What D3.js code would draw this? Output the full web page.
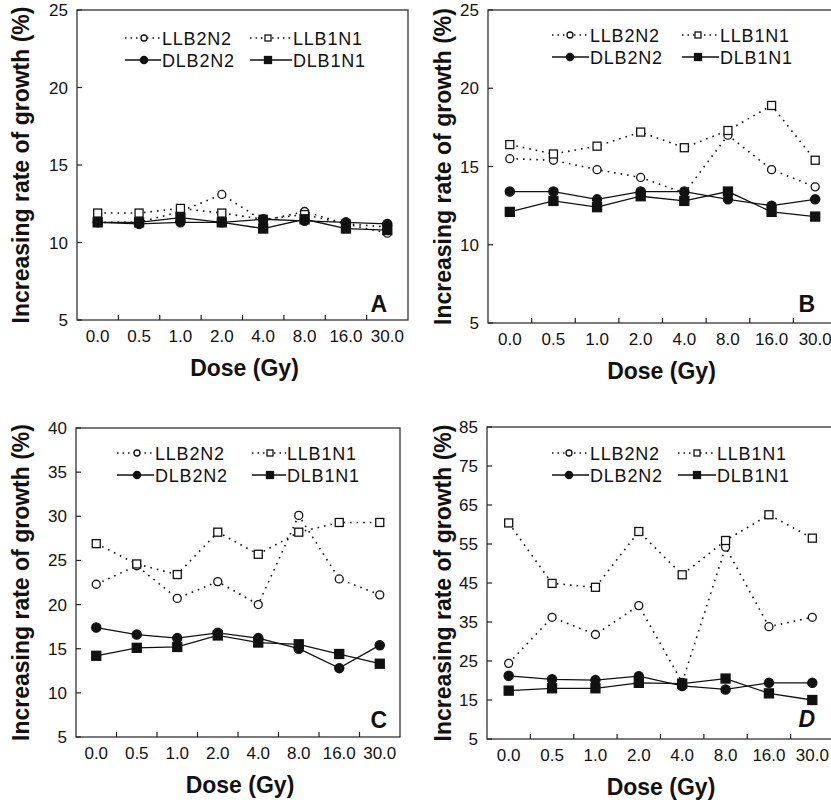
<!DOCTYPE html>
<html>
<head>
  <style>
    body { margin: 0; background: white; }
    svg { font-family: "Liberation Sans", Arial, sans-serif; }
    .tick-label { font-size: 17px; fill: #111; }
    .title { font-size: 23px; font-weight: bold; fill: #111; }
    .legend-text { font-size: 18px; letter-spacing: 0.8px; fill: #111; }
    .letter { font-size: 23px; font-weight: bold; fill: #111; }
  </style>
</head>
<body>
  <div id="chart"></div>
  <script src="https://d3js.org/d3.v7.min.js"></script>
  <script>
    var doses = ["0.0", "0.5", "1.0", "2.0", "4.0", "8.0", "16.0", "30.0"];
    var seriesNames = ["LLB2N2", "LLB1N1", "DLB2N2", "DLB1N1"];

    // panel A
    var llb2n2A = [11.3, 11.3, 12.0, 13.1, 11.4, 12.0, 11.2, 10.6];
    var llb1n1A = [11.9, 11.9, 12.2, 11.9, 11.5, 11.8, 11.2, 11.0];
    var dlb2n2A = [11.3, 11.2, 11.3, 11.3, 11.5, 11.4, 11.3, 11.2];
    var dlb1n1A = [11.3, 11.3, 11.6, 11.3, 10.9, 11.5, 10.9, 10.8];
    // panel B
    var llb2n2B = [15.5, 15.4, 14.8, 14.3, 13.3, 17.0, 14.8, 13.7];
    var llb1n1B = [16.4, 15.8, 16.3, 17.2, 16.2, 17.3, 18.9, 15.4];
    var dlb2n2B = [13.4, 13.4, 12.9, 13.4, 13.4, 12.9, 12.5, 12.9];
    var dlb1n1B = [12.1, 12.8, 12.4, 13.1, 12.8, 13.4, 12.1, 11.8];
    // panel C
    var llb2n2C = [22.3, 24.4, 20.7, 22.6, 20.0, 30.1, 22.9, 21.1];
    var llb1n1C = [26.9, 24.6, 23.4, 28.2, 25.7, 28.2, 29.3, 29.3];
    var dlb2n2C = [17.4, 16.6, 16.2, 16.8, 16.2, 15.0, 12.8, 15.4];
    var dlb1n1C = [14.2, 15.1, 15.2, 16.5, 15.7, 15.5, 14.4, 13.3];
    // panel D
    var llb2n2D = [24.4, 36.2, 31.8, 39.2, 19.5, 54.2, 33.8, 36.2];
    var llb1n1D = [60.4, 44.9, 43.9, 58.2, 47.1, 55.9, 62.5, 56.5];
    var dlb2n2D = [21.2, 20.3, 20.1, 21.1, 18.6, 17.7, 19.4, 19.4];
    var dlb1n1D = [17.4, 18.0, 18.0, 19.4, 19.2, 20.5, 16.7, 15.0];

    var ticksAB = [5, 10, 15, 20, 25];
    var ticksC = [5, 10, 15, 20, 25, 30, 35, 40];
    var ticksD = [5, 15, 25, 35, 45, 55, 65, 75, 85];

    var panels = [
      { letter: "A", italic: false, x0: 77, x1: 408, y0: 10, y1: 320, ticks: ticksAB,
        data: [llb2n2A, llb1n1A, dlb2n2A, dlb1n1A], ytx: 29, letterDx: 21, letterDy: 8,
        leg: { top: 28, l1: 48, m1: 67, t1: 85, l2: 173, m2: 191, t2: 216 } },
      { letter: "B", italic: false, x0: 488, x1: 837, y0: 10, y1: 323, ticks: ticksAB,
        data: [llb2n2B, llb1n1B, dlb2n2B, dlb1n1B], ytx: 451, letterDx: 22, letterDy: 11,
        leg: { top: 25, l1: 64, m1: 82, t1: 102, l2: 194, m2: 210, t2: 232 } },
      { letter: "C", italic: false, x0: 76, x1: 400, y0: 428, y1: 737, ticks: ticksC,
        data: [llb2n2C, llb1n1C, dlb2n2C, dlb1n1C], ytx: 29, letterDx: 13, letterDy: 9,
        leg: { top: 25, l1: 41, m1: 61, t1: 79, l2: 176, m2: 194, t2: 211 } },
      { letter: "D", italic: true, x0: 487, x1: 834, y0: 427, y1: 739, ticks: ticksD,
        data: [llb2n2D, llb1n1D, dlb2n2D, dlb1n1D], ytx: 451, letterDx: 19, letterDy: 12,
        leg: { top: 26, l1: 65, m1: 82, t1: 103, l2: 191, m2: 210, t2: 230 } }
    ];

    var svg = d3.select("#chart").append("svg")
        .attr("width", 831)
        .attr("height", 800);

    function marker(g, i, cx, cy, small) {
      var r = small ? 3 : 4;
      if (i % 2 == 0) {
        g.append("circle")
          .attr("cx", cx).attr("cy", cy)
          .attr("r", i < 2 ? r : r + 0.6)
          .attr("fill", i < 2 ? "white" : "#111")
          .attr("stroke", "#111").attr("stroke-width", 1.3);
      } else {
        var s = i < 2 ? r * 2 : r * 2 + 1;
        g.append("rect")
          .attr("x", cx - s / 2).attr("y", cy - s / 2)
          .attr("width", s).attr("height", s)
          .attr("fill", i < 2 ? "white" : "#111")
          .attr("stroke", "#111").attr("stroke-width", 1.3);
      }
    }

    panels.forEach(function(p) {
      var g = svg.append("g");
      var x = d3.scaleBand().domain(doses).range([p.x0, p.x1]);
      var y = d3.scaleLinear().domain([p.ticks[0], p.ticks[p.ticks.length - 1]]).range([p.y1, p.y0]);
      var cx = function(d) { return x(d) + x.bandwidth() / 2; };

      // frame
      g.append("rect")
        .attr("x", p.x0).attr("y", p.y0)
        .attr("width", p.x1 - p.x0).attr("height", p.y1 - p.y0)
        .attr("fill", "none").attr("stroke", "#222").attr("stroke-width", 1.2);

      // x ticks at band edges, pointing in
      doses.slice(1).forEach(function(d) {
        g.append("line")
          .attr("x1", x(d)).attr("x2", x(d))
          .attr("y1", p.y1).attr("y2", p.y1 - 5)
          .attr("stroke", "#222").attr("stroke-width", 1.2);
      });
      g.selectAll(".xl").data(doses).enter().append("text")
        .attr("class", "tick-label")
        .attr("x", cx)
        .attr("y", p.y1 + 22)
        .attr("text-anchor", "middle")
        .text(function(d) { return d; });

      // y ticks
      p.ticks.forEach(function(t) {
        g.append("line")
          .attr("x1", p.x0).attr("x2", p.x0 + 5)
          .attr("y1", y(t)).attr("y2", y(t))
          .attr("stroke", "#222").attr("stroke-width", 1.2);
        g.append("text")
          .attr("class", "tick-label")
          .attr("x", p.x0 - 9)
          .attr("y", y(t) + 6)
          .attr("text-anchor", "end")
          .text(t);
      });

      // titles
      g.append("text")
        .attr("class", "title")
        .attr("x", (p.x0 + Math.min(p.x1, 831)) / 2 + 2)
        .attr("y", p.y1 + 56)
        .attr("text-anchor", "middle")
        .text("Dose (Gy)");
      g.append("text")
        .attr("class", "title")
        .attr("transform", "translate(" + p.ytx + "," + ((p.y0 + p.y1) / 2) + ") rotate(-90)")
        .attr("text-anchor", "middle")
        .text("Increasing rate of growth (%)");

      // series lines
      p.data.forEach(function(vals, i) {
        var line = d3.line()
          .x(function(v, j) { return cx(doses[j]); })
          .y(function(v) { return y(v); });
        g.append("path")
          .attr("d", line(vals))
          .attr("fill", "none")
          .attr("stroke", "#111")
          .attr("stroke-width", i < 2 ? 1.6 : 1.3)
          .attr("stroke-dasharray", i < 2 ? "1.6,5" : null);
      });
      // markers
      p.data.forEach(function(vals, i) {
        vals.forEach(function(v, j) { marker(g, i, cx(doses[j]), y(v), false); });
      });

      // legend
      seriesNames.forEach(function(name, i) {
        var row = Math.floor(i / 2), col = i % 2;
        var ly = p.y0 + p.leg.top + row * 22;
        var l = p.x0 + (col == 0 ? p.leg.l1 : p.leg.l2);
        var m = p.x0 + (col == 0 ? p.leg.m1 : p.leg.m2);
        var t = p.x0 + (col == 0 ? p.leg.t1 : p.leg.t2);
        g.append("line")
          .attr("x1", l).attr("x2", t - 1)
          .attr("y1", ly).attr("y2", ly)
          .attr("stroke", "#111")
          .attr("stroke-width", i < 2 ? 1.5 : 1.3)
          .attr("stroke-dasharray", i < 2 ? "1.5,4" : null);
        marker(g, i, m, ly, true);
        g.append("text")
          .attr("class", "legend-text")
          .attr("x", t).attr("y", ly + 7)
          .text(name);
      });

      // panel letter
      g.append("text")
        .attr("class", "letter")
        .attr("x", p.x1 - p.letterDx)
        .attr("y", p.y1 - p.letterDy)
        .attr("text-anchor", "end")
        .style("font-style", p.italic ? "italic" : "normal")
        .text(p.letter);
    });
  </script>
</body>
</html>
